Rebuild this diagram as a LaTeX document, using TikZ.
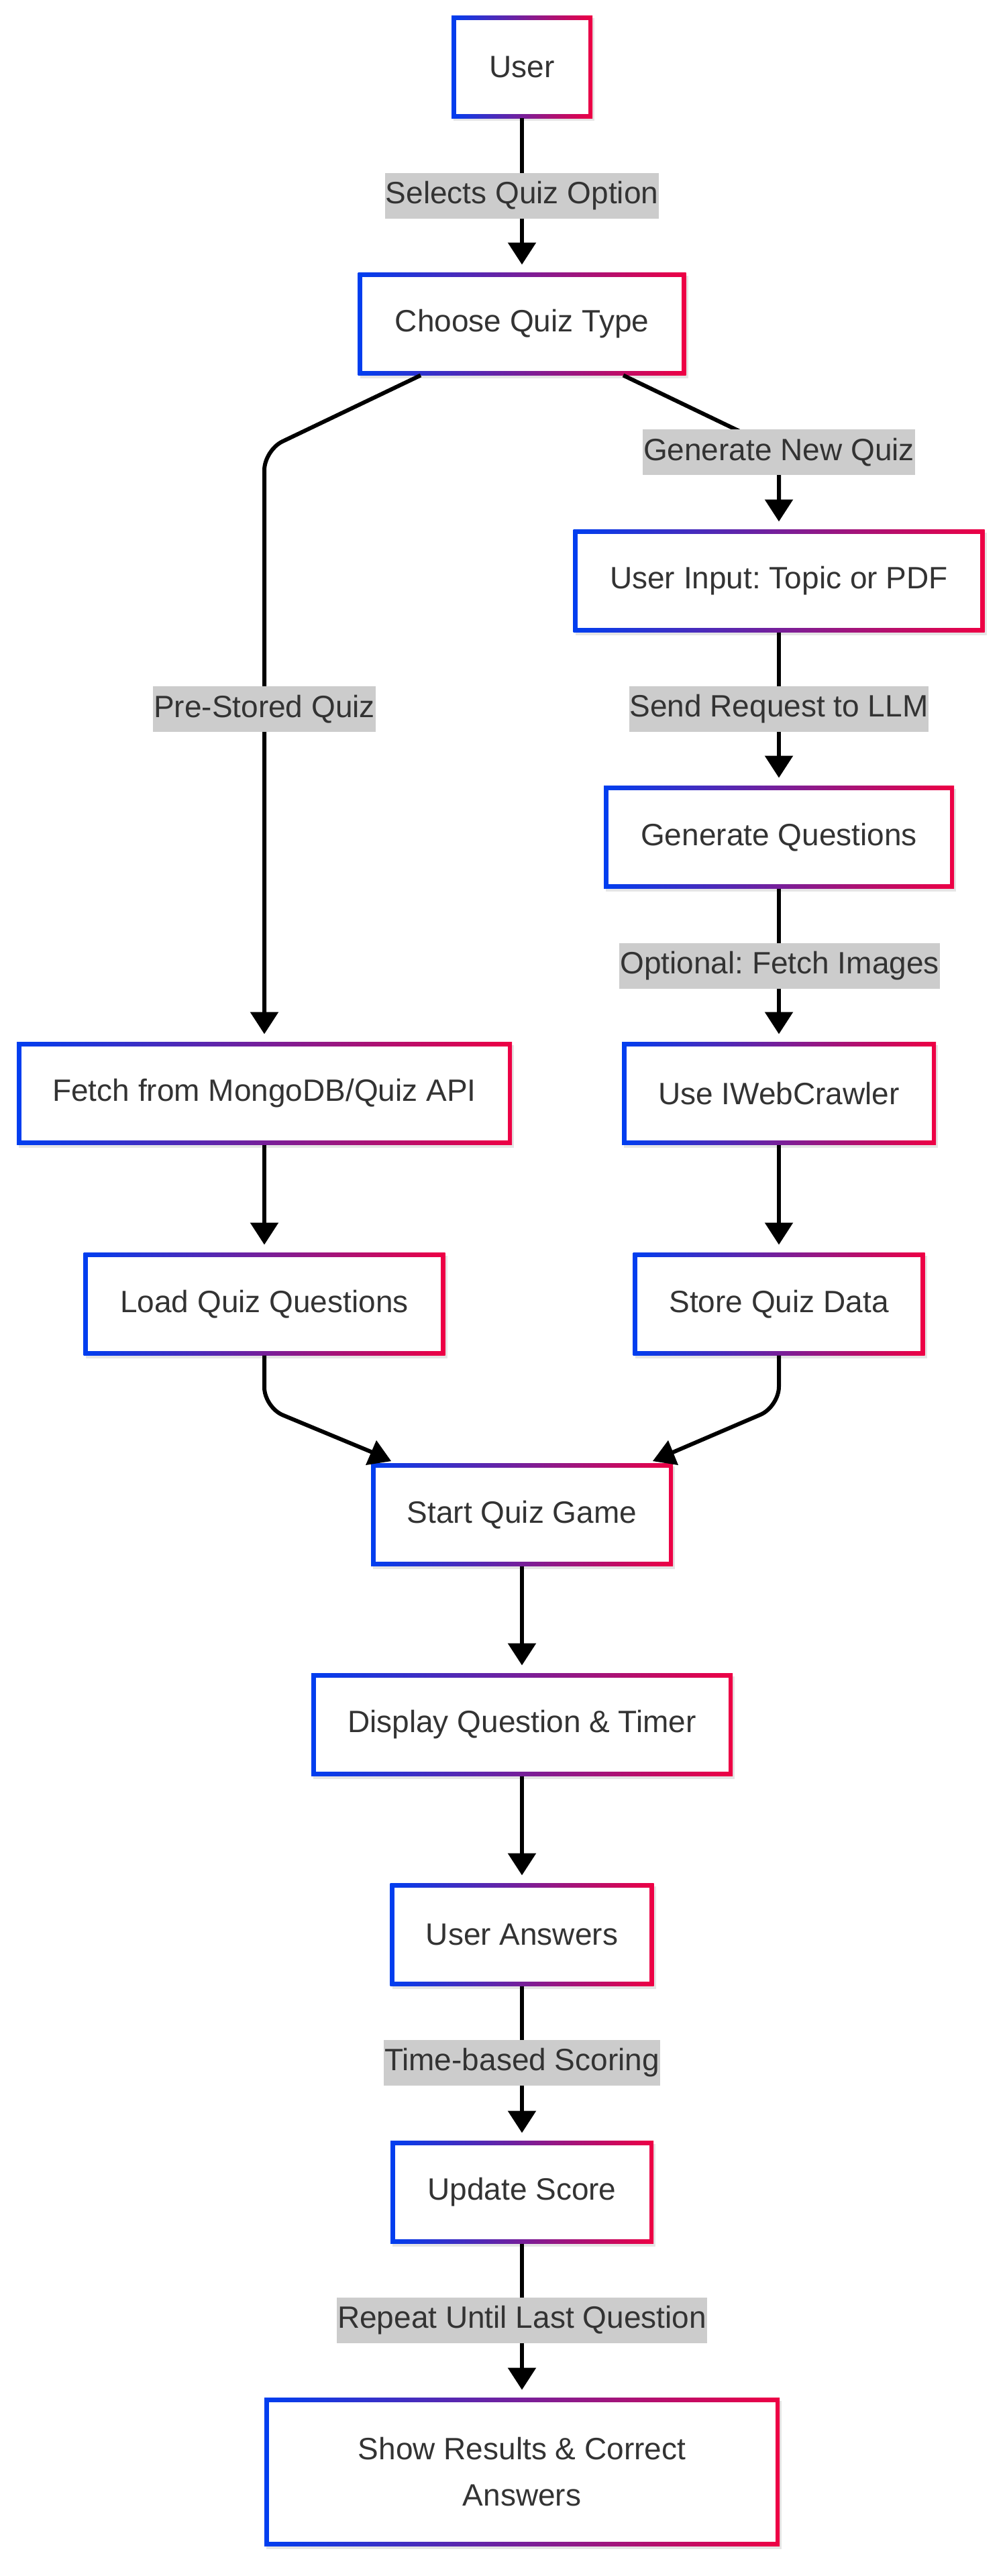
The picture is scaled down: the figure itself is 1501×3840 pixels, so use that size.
\documentclass[tikz,border=0pt]{standalone}
\usepackage{fontspec}
\setmainfont{Liberation Sans}
\usetikzlibrary{arrows.meta,shadows}
\definecolor{qblue}{RGB}{0,62,240}
\definecolor{qred}{RGB}{238,0,68}
\definecolor{qgray}{RGB}{204,204,204}
\definecolor{qtext}{RGB}{51,51,51}
\frenchspacing
\newcommand\qfont{\fontsize{46pt}{69pt}\selectfont\frenchspacing}
\tikzset{
  qbox/.style={rectangle, inner sep=0pt, outer sep=0pt, minimum height=153pt,
    text=qtext, font=\qfont, align=center,
    drop shadow={shadow xshift=3pt, shadow yshift=-4pt, fill=black, opacity=0.10},
    path picture={
      \shade[left color=qblue, right color=qred]
        (path picture bounding box.south west) rectangle (path picture bounding box.north east);
      \fill[white]
        ([shift={(6.5pt,6.5pt)}]path picture bounding box.south west) rectangle
        ([shift={(-6.5pt,-6.5pt)}]path picture bounding box.north east);
    }},
  elabel/.style={rectangle, fill=qgray, text=qtext, font=\qfont,
    inner xsep=1pt, inner ysep=0pt, minimum height=68pt},
  conn/.style={line width=6pt, draw=black, -{Triangle[length=33pt,width=41pt]}, shorten >=12pt},
  plainconn/.style={line width=6pt, draw=black},
}
\begin{document}
\begin{tikzpicture}[x=1pt, y=-1pt]
\useasboundingbox (0,0) rectangle (1501,3840);
\fill[white] (0,0) rectangle (1501,3840);

% nodes
\node[qbox, minimum width=210pt] (user)    at (778,100)  {User};
\node[qbox, minimum width=489pt] (choose)  at (778,483)  {Choose Quiz Type};
\node[qbox, minimum width=613pt] (input)   at (1161,866) {User Input: Topic or PDF};
\node[qbox, minimum width=522pt] (genq)    at (1161,1248) {Generate Questions};
\node[qbox, minimum width=738pt] (fetch)   at (394,1630) {Fetch from MongoDB/Quiz API};
\node[qbox, minimum width=468pt] (crawl)   at (1161,1630) {Use IWebCrawler};
\node[qbox, minimum width=539pt] (load)    at (394,1944) {Load Quiz Questions};
\node[qbox, minimum width=435pt] (store)   at (1161,1944) {Store Quiz Data};
\node[qbox, minimum width=450pt] (start)   at (778,2258) {Start Quiz Game};
\node[qbox, minimum width=628pt] (display) at (778,2571) {Display Question \& Timer};
\node[qbox, minimum width=393pt] (answers) at (778,2884) {User Answers};
\node[qbox, minimum width=392pt] (update)  at (778,3268) {Update Score};
\node[qbox, minimum width=768pt, minimum height=221pt] (show) at (778,3685) {Show Results \& Correct\\Answers};

% connectors
\draw[conn] (user.south) -- (choose.north);
\draw[conn, rounded corners=30pt] ([xshift=-151pt]choose.south) -- (394,671) -- (fetch.north);
\draw[conn, rounded corners=30pt] ([xshift=151pt]choose.south) -- (1161,671) -- (input.north);
\draw[conn] (input.south) -- (genq.north);
\draw[conn] (genq.south) -- (crawl.north);
\draw[conn] (fetch.south) -- (load.north);
\draw[conn] (crawl.south) -- (store.north);
\coordinate (endL) at (560,2167);
\coordinate (endR) at (998,2167);
\draw[plainconn, rounded corners=30pt] (load.south) -- (394,2098) -- (endL);
\draw[plainconn, rounded corners=30pt] (store.south) -- (1161,2097) -- (endR);
\fill[black] (561,2147) -- (545,2184) -- (583,2178) -- cycle;
\fill[black] (996,2147) -- (973,2178) -- (1011,2184) -- cycle;
\draw[conn] (start.south) -- (display.north);
\draw[conn] (display.south) -- (answers.north);
\draw[conn] (answers.south) -- (update.north);
\draw[conn] (update.south) -- (show.north);

% edge labels
\node[elabel] (l1) at (778,292)  {Selects Quiz Option};
\node[elabel] (l2) at (1161,674) {Generate New Quiz};
\node[elabel] (l3) at (394,1057) {Pre-Stored Quiz};
\node[elabel] (l4) at (1161,1057) {Send Request to LLM};
\node[elabel] (l5) at (1162,1440) {Optional: Fetch Images};
\node[elabel] (l6) at (778,3075) {Time-based Scoring};
\node[elabel] (l7) at (778,3459) {Repeat Until Last Question};
\end{tikzpicture}
\end{document}
